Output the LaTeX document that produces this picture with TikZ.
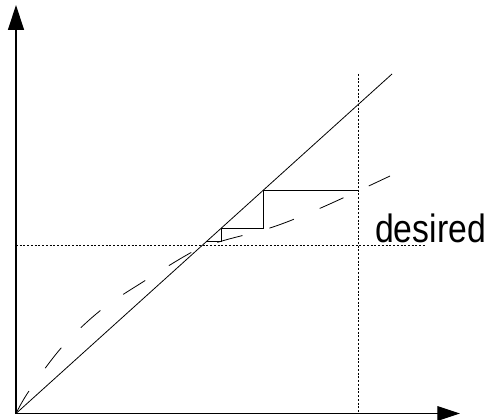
\documentclass[tikz,border=0pt]{standalone}
\usepackage{fontspec}
\setmainfont{Liberation Sans}
\usetikzlibrary{arrows.meta}
\tikzset{
  axis/.style={line width=0.9pt},
  thinline/.style={line width=0.6pt},
  guide/.style={line width=0.6pt, dash pattern=on 1.5pt off 1.3pt},
  curve/.style={line width=0.6pt, dash pattern=on 19.5pt off 21pt},
  lbl/.style={font=\fontsize{29.6}{34}\selectfont, inner sep=0pt, anchor=base west, xscale=0.855}
}
\begin{document}
\begin{tikzpicture}[x=0.75pt,y=-0.75pt]
\useasboundingbox (0,0) rectangle (492,420);
% named points
\coordinate (O) at (16,413.5);
\coordinate (ytip) at (16,5);
\coordinate (xtip) at (460,413.5);
\coordinate (dend) at (392,74);
\coordinate (vtop) at (358,74);
\coordinate (vbot) at (358,413.5);
\coordinate (hleft) at (16,245);
\coordinate (hright) at (425,245);
% axes
\draw[axis, -{Triangle[length=18.75pt,width=12pt]}] (O) -- (ytip);
\draw[axis, -{Triangle[length=17pt,width=11pt]}] (O) -- (xtip);
% guides
\draw[guide] (vtop) -- (vbot);
\draw[guide] (hleft) -- (hright);
% diagonal
\draw[thinline] (O) -- (dend);
% staircase
\draw[thinline] (358,190) -- (263.5,190) -- (263.5,228) -- (221.4,228) -- (221.4,241) -- (207,241);
% dashed curve
\draw[curve] plot[smooth, tension=0.55] coordinates {(16,413.5) (29,391) (62,347) (101,310) (146,280) (194,251) (222,241) (273,227) (323,207) (390,176)};
% label
\node[lbl] (desired) at (375,242.3) {desired};
\end{tikzpicture}
\end{document}
